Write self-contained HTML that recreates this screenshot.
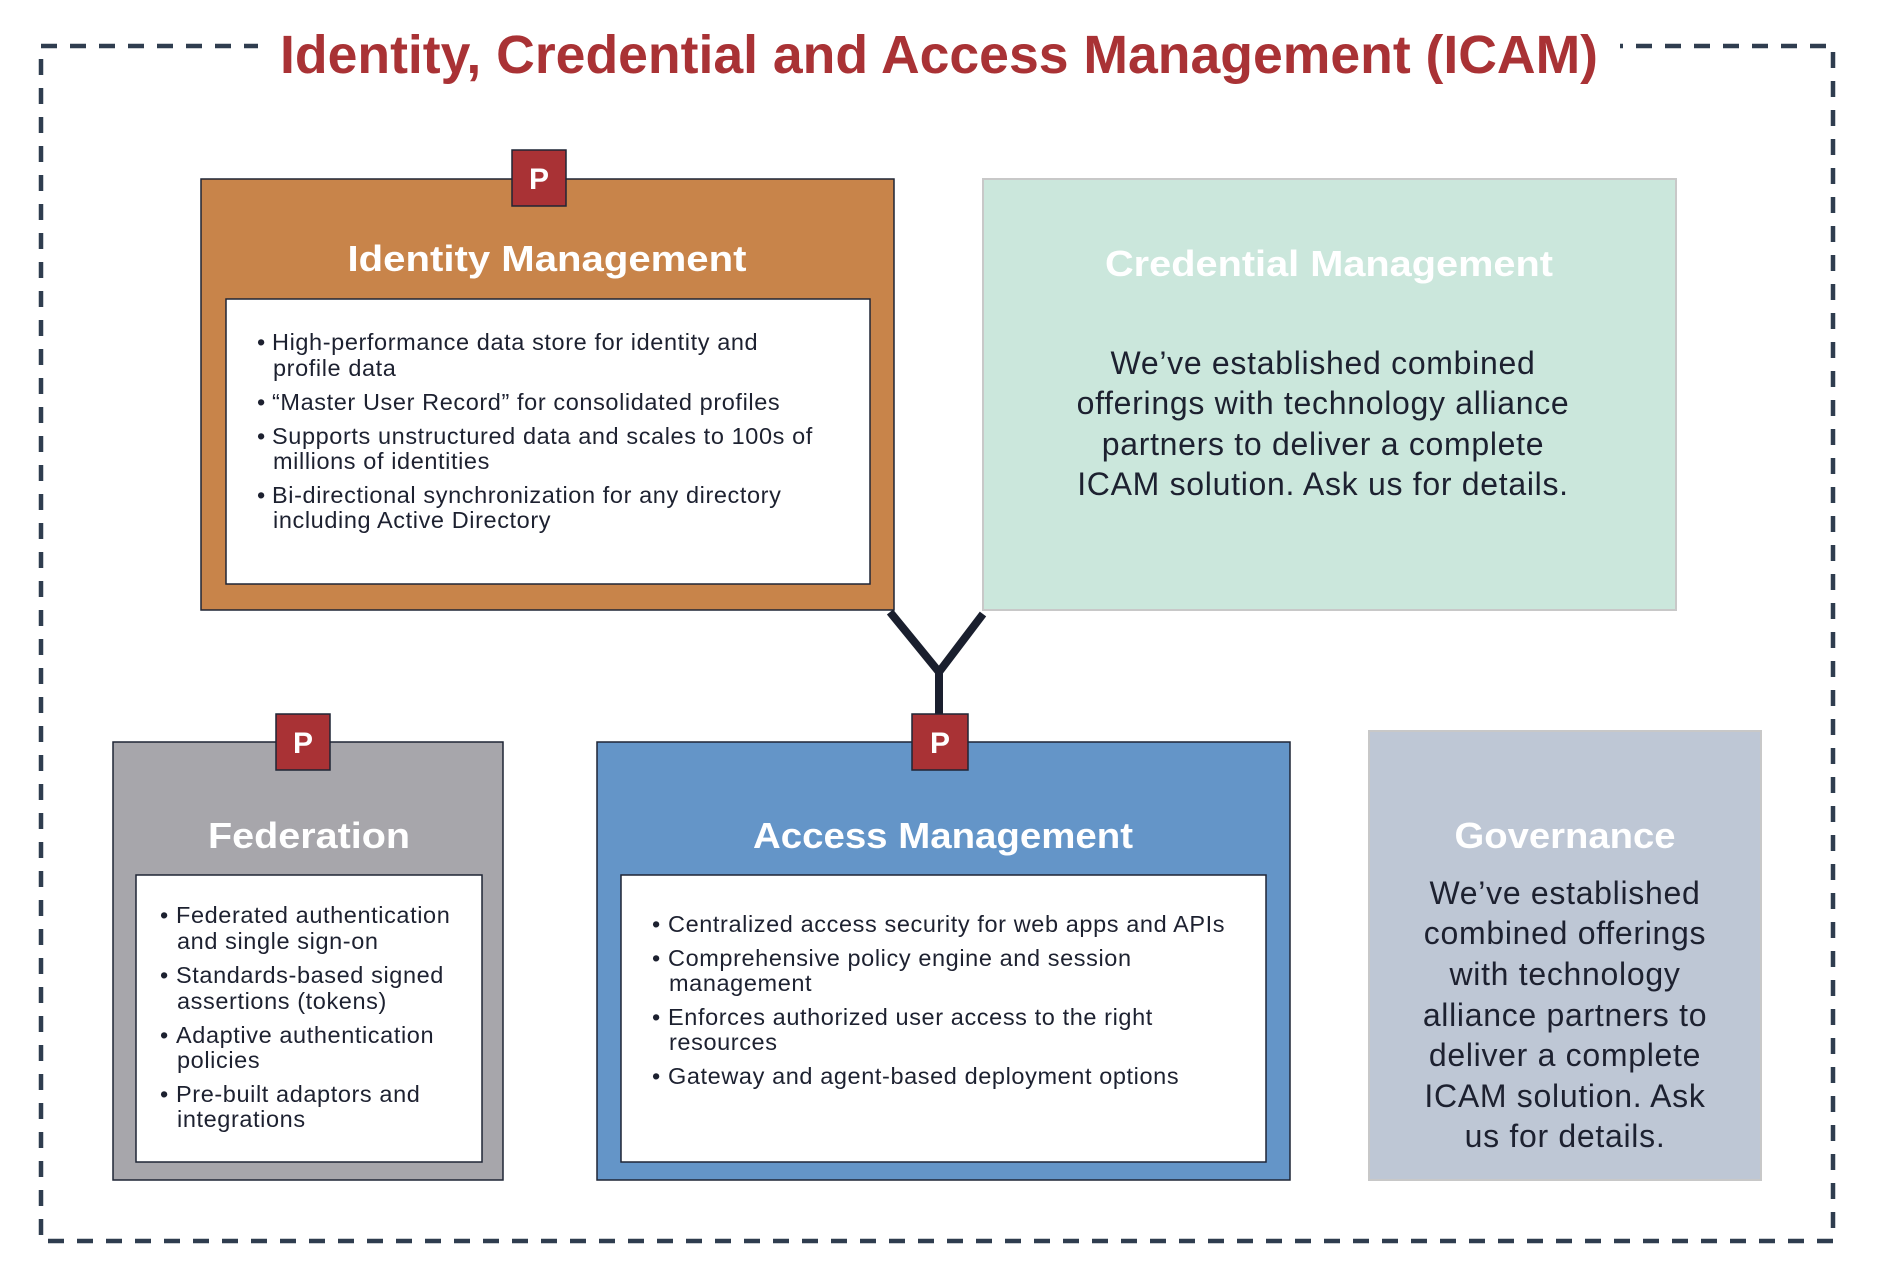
<!DOCTYPE html>
<html><head><meta charset="utf-8"><style>
html,body{margin:0;padding:0;background:#fff;}
svg{display:block;}
text{font-family:"Liberation Sans",sans-serif;}
.b{font-size:23.5px;fill:#1d2130;letter-spacing:0.6px;}
.h{font-size:36px;font-weight:bold;fill:#fff;text-anchor:middle;}
.t{font-size:32px;fill:#1d2130;text-anchor:middle;letter-spacing:0.7px;}
.p{font-size:30px;font-weight:bold;fill:#fff;text-anchor:middle;}
</style></head><body>
<svg width="1898" height="1278" viewBox="0 0 1898 1278" xmlns="http://www.w3.org/2000/svg">
<rect x="41" y="46" width="1792" height="1195" fill="none" stroke="#2f3d4f" stroke-width="4.5" stroke-dasharray="16 13"/>
<rect x="258" y="20" width="1362" height="60" fill="#fff"/>
<text x="939" y="73" text-anchor="middle" font-size="54" fill="#a93235" font-weight="bold" textLength="1318" lengthAdjust="spacingAndGlyphs">Identity, Credential and Access Management (ICAM)</text>

<path d="M890 612 L939 672 L983 614 M939 672 L939 716" fill="none" stroke="#1a1f2e" stroke-width="8"/>

<rect x="201" y="179" width="693" height="431" fill="#c8844a" stroke="#1f2535" stroke-width="1.5"/>
<rect x="512" y="150" width="54" height="56" fill="#a93235" stroke="#1f2535" stroke-width="1.5"/>
<text x="539" y="189" class="p">P</text>
<text x="547" y="271" class="h" textLength="399" lengthAdjust="spacingAndGlyphs">Identity Management</text>
<rect x="226" y="299" width="644" height="285" fill="#fff" stroke="#1f2535" stroke-width="1.5"/>
<g class="b">
<text x="257" y="350">•</text><text x="272" y="350">High-performance data store for identity and</text>
<text x="273" y="376">profile data</text>
<text x="257" y="410">•</text><text x="272" y="410">“Master User Record” for consolidated profiles</text>
<text x="257" y="444">•</text><text x="272" y="444">Supports unstructured data and scales to 100s of</text>
<text x="273" y="469">millions of identities</text>
<text x="257" y="503">•</text><text x="272" y="503">Bi-directional synchronization for any directory</text>
<text x="273" y="528">including Active Directory</text>
</g>

<rect x="983" y="179" width="693" height="431" fill="#cbe7dc" stroke="#c8c8c8" stroke-width="2"/>
<text x="1329" y="276" class="h" textLength="448" lengthAdjust="spacingAndGlyphs">Credential Management</text>
<text x="1323" y="374" class="t">We’ve established combined</text>
<text x="1323" y="414" class="t">offerings with technology alliance</text>
<text x="1323" y="455" class="t">partners to deliver a complete</text>
<text x="1323" y="495" class="t">ICAM solution. Ask us for details.</text>

<rect x="113" y="742" width="390" height="438" fill="#a7a6ab" stroke="#1f2535" stroke-width="1.5"/>
<rect x="276" y="714" width="54" height="56" fill="#a93235" stroke="#1f2535" stroke-width="1.5"/>
<text x="303" y="753" class="p">P</text>
<text x="309" y="848" class="h" textLength="202" lengthAdjust="spacingAndGlyphs">Federation</text>
<rect x="136" y="875" width="346" height="287" fill="#fff" stroke="#1f2535" stroke-width="1.5"/>
<g class="b">
<text x="160" y="923">•</text><text x="176" y="923">Federated authentication</text>
<text x="177" y="949">and single sign-on</text>
<text x="160" y="983">•</text><text x="176" y="983">Standards-based signed</text>
<text x="177" y="1009">assertions (tokens)</text>
<text x="160" y="1043">•</text><text x="176" y="1043">Adaptive authentication</text>
<text x="177" y="1068">policies</text>
<text x="160" y="1102">•</text><text x="176" y="1102">Pre-built adaptors and</text>
<text x="177" y="1127">integrations</text>
</g>

<rect x="597" y="742" width="693" height="438" fill="#6495c8" stroke="#1f2535" stroke-width="1.5"/>
<rect x="912" y="714" width="56" height="56" fill="#a93235" stroke="#1f2535" stroke-width="1.5"/>
<text x="940" y="753" class="p">P</text>
<text x="943" y="848" class="h" textLength="380" lengthAdjust="spacingAndGlyphs">Access Management</text>
<rect x="621" y="875" width="645" height="287" fill="#fff" stroke="#1f2535" stroke-width="1.5"/>
<g class="b">
<text x="652" y="932">•</text><text x="668" y="932">Centralized access security for web apps and APIs</text>
<text x="652" y="966">•</text><text x="668" y="966">Comprehensive policy engine and session</text>
<text x="669" y="991">management</text>
<text x="652" y="1025">•</text><text x="668" y="1025">Enforces authorized user access to the right</text>
<text x="669" y="1050">resources</text>
<text x="652" y="1084">•</text><text x="668" y="1084">Gateway and agent-based deployment options</text>
</g>

<rect x="1369" y="731" width="392" height="449" fill="#bec7d5" stroke="#c8c8c8" stroke-width="2"/>
<text x="1565" y="848" class="h" textLength="221" lengthAdjust="spacingAndGlyphs">Governance</text>
<text x="1565" y="904" class="t">We’ve established</text>
<text x="1565" y="944" class="t">combined offerings</text>
<text x="1565" y="985" class="t">with technology</text>
<text x="1565" y="1026" class="t">alliance partners to</text>
<text x="1565" y="1066" class="t">deliver a complete</text>
<text x="1565" y="1107" class="t">ICAM solution. Ask</text>
<text x="1565" y="1147" class="t">us for details.</text>
</svg>
</body></html>
